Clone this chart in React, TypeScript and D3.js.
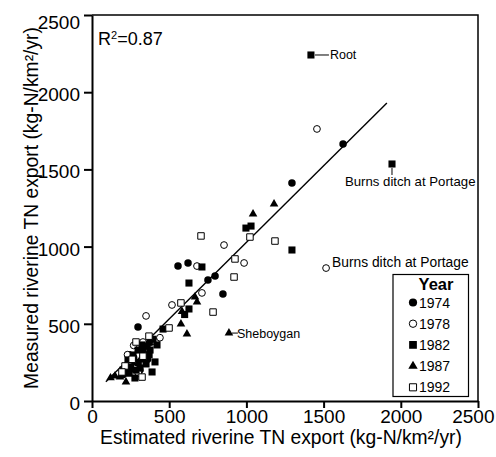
import React, { useRef, useEffect } from 'react';
import * as d3 from 'd3';

// estimated (x) vs measured (y) riverine TN export, kg-N/km2/yr
const years = ['1974', '1978', '1982', '1987', '1992'];

const est1974 = [1626, 1295, 557, 622, 797, 751, 848, 298, 240, 290, 330, 360, 200, 380, 310, 270, 345];
const meas1974 = [1665, 1412, 874, 894, 810, 784, 693, 479, 300, 250, 330, 270, 170, 380, 200, 280, 355];

const est1978 = [1457, 1516, 985, 855, 680, 712, 518, 350, 330, 414, 230, 270, 300, 440];
const meas1978 = [1762, 861, 894, 1010, 874, 700, 622, 551, 382, 382, 300, 360, 180, 410];

const est1982 = [1418, 1943, 1030, 997, 1295, 712, 628, 628, 600, 460, 233, 266, 298, 324, 343, 376, 408, 389, 311, 278, 421, 350, 250, 200, 300, 330, 370, 240, 285, 395];
const meas1982 = [2241, 1535, 1133, 1120, 978, 868, 764, 596, 560, 466, 266, 298, 330, 363, 285, 330, 253, 188, 214, 149, 363, 240, 220, 200, 250, 280, 300, 180, 200, 400];

const est1987 = [1179, 1043, 887, 667, 680, 583, 576, 615, 149, 181, 220, 220, 311, 356, 278, 260, 120];
const meas1987 = [1276, 1211, 440, 674, 641, 580, 499, 434, 162, 155, 123, 181, 266, 363, 253, 200, 150];

const est1992 = [706, 1023, 1185, 926, 920, 784, 576, 499, 285, 369, 324, 214, 194, 260, 330];
const meas1992 = [1069, 1062, 1036, 920, 803, 576, 635, 473, 382, 420, 155, 227, 188, 270, 290];

const fitEst = [90, 1910];
const fitMeas = [125, 1930];

const tickValues = [0, 500, 1000, 1500, 2000, 2500];

// [series index, point index, label]
const notes: [number, number, string][] = [
  [2, 0, 'Root'],
  [2, 1, 'Burns ditch at Portage'],
  [1, 1, 'Burns ditch at Portage'],
  [3, 2, 'Sheboygan'],
];

const FONT = '"Liberation Sans", Arial, Helvetica, sans-serif';

const App = () => {
  const ref = useRef<SVGSVGElement>(null);

  useEffect(() => {
    document.body.style.margin = '0';
    const svg = d3.select(ref.current);
    svg.selectAll('*').remove();

    const width = 496, height = 457;
    const left = 92, right = 478, top = 15, bottom = 401;

    svg.attr('width', width).attr('height', height).style('display', 'block');

    const x = d3.scaleLinear().domain([0, 2500]).range([left, right]);
    const y = d3.scaleLinear().domain([0, 2500]).range([bottom, top]);

    // frame top/right
    svg.append('path')
      .attr('d', `M${left},${top}H${right}V${bottom}`)
      .attr('fill', 'none')
      .attr('stroke', '#000')
      .attr('stroke-width', 1.5);

    const gx = svg.append('g')
      .attr('transform', `translate(0,${bottom})`)
      .call(d3.axisBottom(x).tickValues(tickValues).tickSize(7).tickSizeOuter(0).tickPadding(2).tickFormat(d3.format('d')));
    const gy = svg.append('g')
      .attr('transform', `translate(${left},0)`)
      .call(d3.axisLeft(y).tickValues(tickValues).tickSize(8).tickSizeOuter(0).tickPadding(4).tickFormat(d3.format('d')));

    [gx, gy].forEach((g) => {
      g.select('.domain').attr('stroke-width', 2);
      g.selectAll('.tick line').attr('stroke-width', 2);
      g.selectAll('.tick text').attr('font-size', 19).attr('font-family', FONT).attr('fill', '#000');
    });
    // keep the end labels inside the page, as in the original
    gx.selectAll<SVGTextElement, number>('.tick text').filter((d) => d === 2500).attr('text-anchor', 'end').attr('x', 16);
    gy.selectAll<SVGTextElement, number>('.tick text').attr('dy', '0.45em');
    gy.selectAll<SVGTextElement, number>('.tick text').filter((d) => d === 2500).attr('dy', '0.7em');

    svg.append('text')
      .attr('x', (left + right) / 2 - 4)
      .attr('y', 443.5)
      .attr('text-anchor', 'middle')
      .attr('font-family', FONT)
      .attr('font-size', 19.3)
      .text('Estimated riverine TN export (kg-N/km²/yr)');

    svg.append('text')
      .attr('transform', `translate(38,${(top + bottom) / 2}) rotate(-90)`)
      .attr('text-anchor', 'middle')
      .attr('font-family', FONT)
      .attr('font-size', 19.3)
      .text('Measured riverine TN export (kg-N/km²/yr)');

    const r2 = svg.append('text')
      .attr('x', 98)
      .attr('y', 45)
      .attr('font-family', FONT)
      .attr('font-size', 18);
    r2.append('tspan').text('R');
    r2.append('tspan').attr('font-size', 11).attr('dy', -6).text('2');
    r2.append('tspan').attr('dy', 6).text('=0.87');

    // regression line
    svg.append('line')
      .attr('x1', x(fitEst[0])).attr('y1', y(fitMeas[0]))
      .attr('x2', x(fitEst[1])).attr('y2', y(fitMeas[1]))
      .attr('stroke', '#000')
      .attr('stroke-width', 1.4);

    const series = [
      { est: est1974, meas: meas1974, type: d3.symbolCircle, size: 44, filled: true },
      { est: est1978, meas: meas1978, type: d3.symbolCircle, size: 36, filled: false },
      { est: est1982, meas: meas1982, type: d3.symbolSquare, size: 50, filled: true },
      { est: est1987, meas: meas1987, type: d3.symbolTriangle, size: 32, filled: true },
      { est: est1992, meas: meas1992, type: d3.symbolSquare, size: 42, filled: false },
    ];

    series.forEach((s) => {
      const sym = d3.symbol().type(s.type).size(s.size);
      svg.append('g')
        .selectAll('path')
        .data(s.est.map((e, i) => [e, s.meas[i]]))
        .enter()
        .append('path')
        .attr('d', sym)
        .attr('transform', (d) => `translate(${x(d[0])},${y(d[1])})`)
        .attr('fill', s.filled ? '#000' : '#fff')
        .attr('stroke', '#000')
        .attr('stroke-width', s.filled ? 0 : 1);
    });

    // annotations
    const ann = svg.append('g').attr('font-family', FONT).attr('fill', '#000');
    notes.forEach(([si, pi, label], k) => {
      const px = x(series[si].est[pi]);
      const py = y(series[si].meas[pi]);
      if (k === 0) {
        ann.append('line').attr('x1', px + 4).attr('x2', px + 18).attr('y1', py).attr('y2', py).attr('stroke', '#000');
        ann.append('text').attr('x', px + 19).attr('y', py + 4.5).attr('font-size', 12.5).text(label);
      } else if (k === 1) {
        ann.append('line').attr('x1', px).attr('x2', px).attr('y1', py + 4).attr('y2', py + 11).attr('stroke', '#000');
        ann.append('text').attr('x', px - 47).attr('y', py + 22).attr('font-size', 13.2).text(label);
      } else if (k === 2) {
        ann.append('text').attr('x', px + 6).attr('y', py - 1).attr('font-size', 13.8).text(label);
      } else {
        ann.append('line').attr('x1', px + 3).attr('x2', px + 9).attr('y1', py).attr('y2', py).attr('stroke', '#000');
        ann.append('text').attr('x', px + 8).attr('y', py + 4.5).attr('font-size', 12.5).text(label);
      }
    });

    // legend
    const lg = svg.append('g').attr('font-family', FONT);
    lg.append('rect')
      .attr('x', 393).attr('y', 274.5).attr('width', 75.5).attr('height', 122)
      .attr('fill', '#fff').attr('stroke', '#000').attr('stroke-width', 1.2);
    lg.append('text')
      .attr('x', 436).attr('y', 290)
      .attr('text-anchor', 'middle')
      .attr('font-weight', 'bold')
      .attr('font-size', 16.5)
      .text('Year');
    years.forEach((yr, i) => {
      const cy = 302.5 + i * 21.2;
      const s = series[i];
      lg.append('path')
        .attr('d', d3.symbol().type(s.type).size(s.size * 1.2)())
        .attr('transform', `translate(413,${cy})`)
        .attr('fill', s.filled ? '#000' : '#fff')
        .attr('stroke', '#000')
        .attr('stroke-width', s.filled ? 0 : 1);
      lg.append('text')
        .attr('x', 419).attr('y', cy + 5)
        .attr('font-size', 14)
        .text(yr);
    });
  }, []);

  return <svg ref={ref}></svg>;
};

export default App;
